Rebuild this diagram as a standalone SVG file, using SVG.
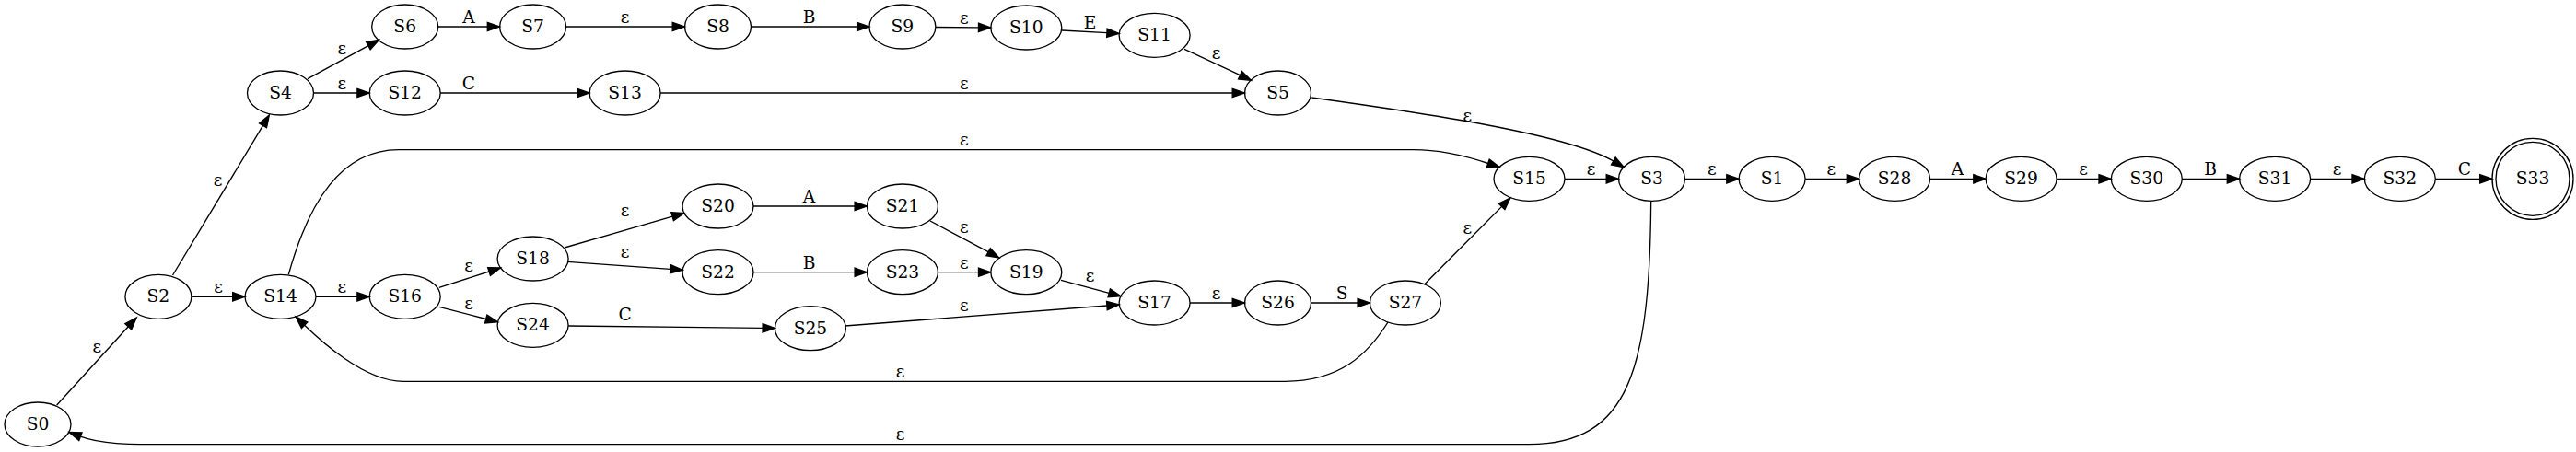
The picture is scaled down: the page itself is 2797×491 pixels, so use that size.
<svg xmlns="http://www.w3.org/2000/svg" width="2797" height="491" viewBox="0 0 2797 491">
<style>
.node ellipse{fill:none;stroke:#000;stroke-width:1.33}
text{font-family:"DejaVu Serif","Liberation Serif",serif;font-size:18.67px;text-anchor:middle;fill:#000}
#edges path{fill:none;stroke:#000;stroke-width:1.33;marker-end:url(#ah)}
</style>
<defs>
<marker id="ah" markerWidth="14" markerHeight="10" refX="0" refY="4.67" orient="auto" markerUnits="userSpaceOnUse" overflow="visible"><path d="M0,0 L13.3,4.67 L0,9.34 Z" fill="#000" stroke="#000" stroke-width="1.33" stroke-linejoin="miter"/></marker>
</defs>
<rect width="2797" height="491" fill="#fff"/>
<g id="edges">
<path d="M61.7,440 L139.3,354.8"/><text x="105.3" y="382.6">ε</text>
<path d="M187.5,299 L285.5,136.4"/><text x="236.6" y="202.2">ε</text>
<path d="M207.9,322.3 L252.7,322.3"/><text x="237" y="318.2">ε</text>
<path d="M334,85.7 L399.9,49.7"/><text x="371.4" y="58.9">ε</text>
<path d="M340.5,101 L387.9,101"/><text x="371.4" y="97">ε</text>
<path d="M475.7,29 L529.3,29"/><text x="509" y="25">A</text>
<path d="M614.6,29 L730.2,29"/><text x="678.6" y="25">ε</text>
<path d="M815.5,29 L930.6,29"/><text x="878.6" y="25">B</text>
<path d="M1015.9,29.5 L1062.5,29.8"/><text x="1046.9" y="25.5">ε</text>
<path d="M1153,33 L1201.9,35.7"/><text x="1183.5" y="30.7">E</text>
<path d="M1286,53.3 L1346.5,81.7"/><text x="1320.5" y="64.2">ε</text>
<path d="M478.2,101 L626.8,101"/><text x="509" y="97">C</text>
<path d="M717.1,101 L1338.2,101"/><text x="1046.9" y="97">ε</text>
<path d="M1424.3,106 C1540,122 1699.8,145 1751.8,175"/><text x="1593.3" y="131.5">ε</text>
<path d="M313.3,298.3 C335,220 370,162.7 433,162.7 L1535,162.7 C1565,162.7 1592,169.6 1615.7,177.5"/><text x="1046.9" y="158.2">ε</text>
<path d="M343,322.3 L387.9,322.3"/><text x="371.4" y="318.2">ε</text>
<path d="M476.8,312.3 L531,295"/><text x="509" y="294.9">ε</text>
<path d="M476.8,333.3 L527.7,346.5"/><text x="509" y="335.9">ε</text>
<path d="M613,269 L730.1,235.2"/><text x="678.6" y="234.9">ε</text>
<path d="M616,284.3 L727.9,292.3"/><text x="678.6" y="279.9">ε</text>
<path d="M617.1,354 L828.1,356.4"/><text x="678.6" y="348.3">C</text>
<path d="M818,224 L928.1,224"/><text x="878.6" y="220">A</text>
<path d="M1010,240 L1073.1,273.7"/><text x="1046.9" y="253.2">ε</text>
<path d="M818,295.7 L928.1,295.7"/><text x="878.6" y="291.7">B</text>
<path d="M1018.4,295.7 L1062.5,295.7"/><text x="1046.9" y="291.7">ε</text>
<path d="M1152,304.3 L1204.2,318.3"/><text x="1183.5" y="305.9">ε</text>
<path d="M917.4,354 L1201.9,332"/><text x="1046.9" y="338.2">ε</text>
<path d="M1292.1,329 L1338.2,329"/><text x="1320.5" y="325">ε</text>
<path d="M1423.5,329 L1474.1,329"/><text x="1457.1" y="325">S</text>
<path d="M1547.3,308.3 L1630.6,224.4"/><text x="1593.3" y="254.2">ε</text>
<path d="M1507,350 C1485,385 1455,414.3 1395,414.3 L437.5,414.3 C395,414.3 345,367.1 330.6,353.2"/><text x="977.7" y="409.9">ε</text>
<path d="M1699,194.3 L1744.2,194.3"/><text x="1727.7" y="190.3">ε</text>
<path d="M1792.7,218.3 C1791,400 1770,482.7 1660,482.7 L175,482.7 C140,482.7 110,482.7 87.4,474.2"/><text x="977.7" y="478.2">ε</text>
<path d="M1829.5,194.3 L1874.8,194.3"/><text x="1858.9" y="190.3">ε</text>
<path d="M1960.1,194.3 L2005.3,194.3"/><text x="1988.4" y="190.3">ε</text>
<path d="M2095.6,194.3 L2142.8,194.3"/><text x="2125.4" y="190.3">A</text>
<path d="M2233.1,194.3 L2279,194.3"/><text x="2262" y="190.3">ε</text>
<path d="M2369.3,194.3 L2418.3,194.3"/><text x="2400" y="190.3">B</text>
<path d="M2508.6,194.3 L2554,194.3"/><text x="2537.5" y="190.3">ε</text>
<path d="M2644.3,194.3 L2692.7,194.3"/><text x="2675.9" y="190.3">C</text>
</g>
<g id="S0" class="node"><ellipse cx="41" cy="461" rx="36" ry="24"/><text x="41" y="467">S0</text></g>
<g id="S2" class="node"><ellipse cx="171.9" cy="322.3" rx="36" ry="24"/><text x="171.9" y="328.3">S2</text></g>
<g id="S4" class="node"><ellipse cx="304.5" cy="101" rx="36" ry="24"/><text x="304.5" y="107">S4</text></g>
<g id="S6" class="node"><ellipse cx="439.7" cy="29" rx="36" ry="24"/><text x="439.7" y="35">S6</text></g>
<g id="S7" class="node"><ellipse cx="578.6" cy="29" rx="36" ry="24"/><text x="578.6" y="35">S7</text></g>
<g id="S8" class="node"><ellipse cx="779.5" cy="29" rx="36" ry="24"/><text x="779.5" y="35">S8</text></g>
<g id="S9" class="node"><ellipse cx="979.9" cy="29" rx="36" ry="24"/><text x="979.9" y="35">S9</text></g>
<g id="S10" class="node"><ellipse cx="1114.3" cy="30" rx="38.5" ry="24"/><text x="1114.3" y="36">S10</text></g>
<g id="S11" class="node"><ellipse cx="1253.6" cy="38.3" rx="38.5" ry="24"/><text x="1253.6" y="44.3">S11</text></g>
<g id="S5" class="node"><ellipse cx="1387.5" cy="101" rx="36" ry="24"/><text x="1387.5" y="107">S5</text></g>
<g id="S12" class="node"><ellipse cx="439.7" cy="101" rx="38.5" ry="24"/><text x="439.7" y="107">S12</text></g>
<g id="S13" class="node"><ellipse cx="678.6" cy="101" rx="38.5" ry="24"/><text x="678.6" y="107">S13</text></g>
<g id="S14" class="node"><ellipse cx="304.5" cy="322.3" rx="38.5" ry="24"/><text x="304.5" y="328.3">S14</text></g>
<g id="S16" class="node"><ellipse cx="439.7" cy="322.3" rx="38.5" ry="24"/><text x="439.7" y="328.3">S16</text></g>
<g id="S18" class="node"><ellipse cx="578.6" cy="281" rx="38.5" ry="24"/><text x="578.6" y="287">S18</text></g>
<g id="S24" class="node"><ellipse cx="578.6" cy="353.3" rx="38.5" ry="24"/><text x="578.6" y="359.3">S24</text></g>
<g id="S20" class="node"><ellipse cx="779.5" cy="224" rx="38.5" ry="24"/><text x="779.5" y="230">S20</text></g>
<g id="S21" class="node"><ellipse cx="979.9" cy="224" rx="38.5" ry="24"/><text x="979.9" y="230">S21</text></g>
<g id="S22" class="node"><ellipse cx="779.5" cy="295.7" rx="38.5" ry="24"/><text x="779.5" y="301.7">S22</text></g>
<g id="S23" class="node"><ellipse cx="979.9" cy="295.7" rx="38.5" ry="24"/><text x="979.9" y="301.7">S23</text></g>
<g id="S19" class="node"><ellipse cx="1114.3" cy="295.7" rx="38.5" ry="24"/><text x="1114.3" y="301.7">S19</text></g>
<g id="S25" class="node"><ellipse cx="879.9" cy="356.7" rx="38.5" ry="24"/><text x="879.9" y="362.7">S25</text></g>
<g id="S17" class="node"><ellipse cx="1253.6" cy="329" rx="38.5" ry="24"/><text x="1253.6" y="335">S17</text></g>
<g id="S26" class="node"><ellipse cx="1387.5" cy="329" rx="36" ry="24"/><text x="1387.5" y="335">S26</text></g>
<g id="S27" class="node"><ellipse cx="1525.9" cy="329" rx="38.5" ry="24"/><text x="1525.9" y="335">S27</text></g>
<g id="S15" class="node"><ellipse cx="1660.5" cy="194.3" rx="38.5" ry="24"/><text x="1660.5" y="200.3">S15</text></g>
<g id="S3" class="node"><ellipse cx="1793.5" cy="194.3" rx="36" ry="24"/><text x="1793.5" y="200.3">S3</text></g>
<g id="S1" class="node"><ellipse cx="1924.1" cy="194.3" rx="36" ry="24"/><text x="1924.1" y="200.3">S1</text></g>
<g id="S28" class="node"><ellipse cx="2057.1" cy="194.3" rx="38.5" ry="24"/><text x="2057.1" y="200.3">S28</text></g>
<g id="S29" class="node"><ellipse cx="2194.6" cy="194.3" rx="38.5" ry="24"/><text x="2194.6" y="200.3">S29</text></g>
<g id="S30" class="node"><ellipse cx="2330.8" cy="194.3" rx="38.5" ry="24"/><text x="2330.8" y="200.3">S30</text></g>
<g id="S31" class="node"><ellipse cx="2470.1" cy="194.3" rx="38.5" ry="24"/><text x="2470.1" y="200.3">S31</text></g>
<g id="S32" class="node"><ellipse cx="2605.8" cy="194.3" rx="38.5" ry="24"/><text x="2605.8" y="200.3">S32</text></g>
<g id="S33" class="node"><ellipse cx="2750" cy="194.3" rx="40" ry="40"/><ellipse cx="2750" cy="194.3" rx="44" ry="44"/><text x="2750" y="200.3">S33</text></g>
</svg>
